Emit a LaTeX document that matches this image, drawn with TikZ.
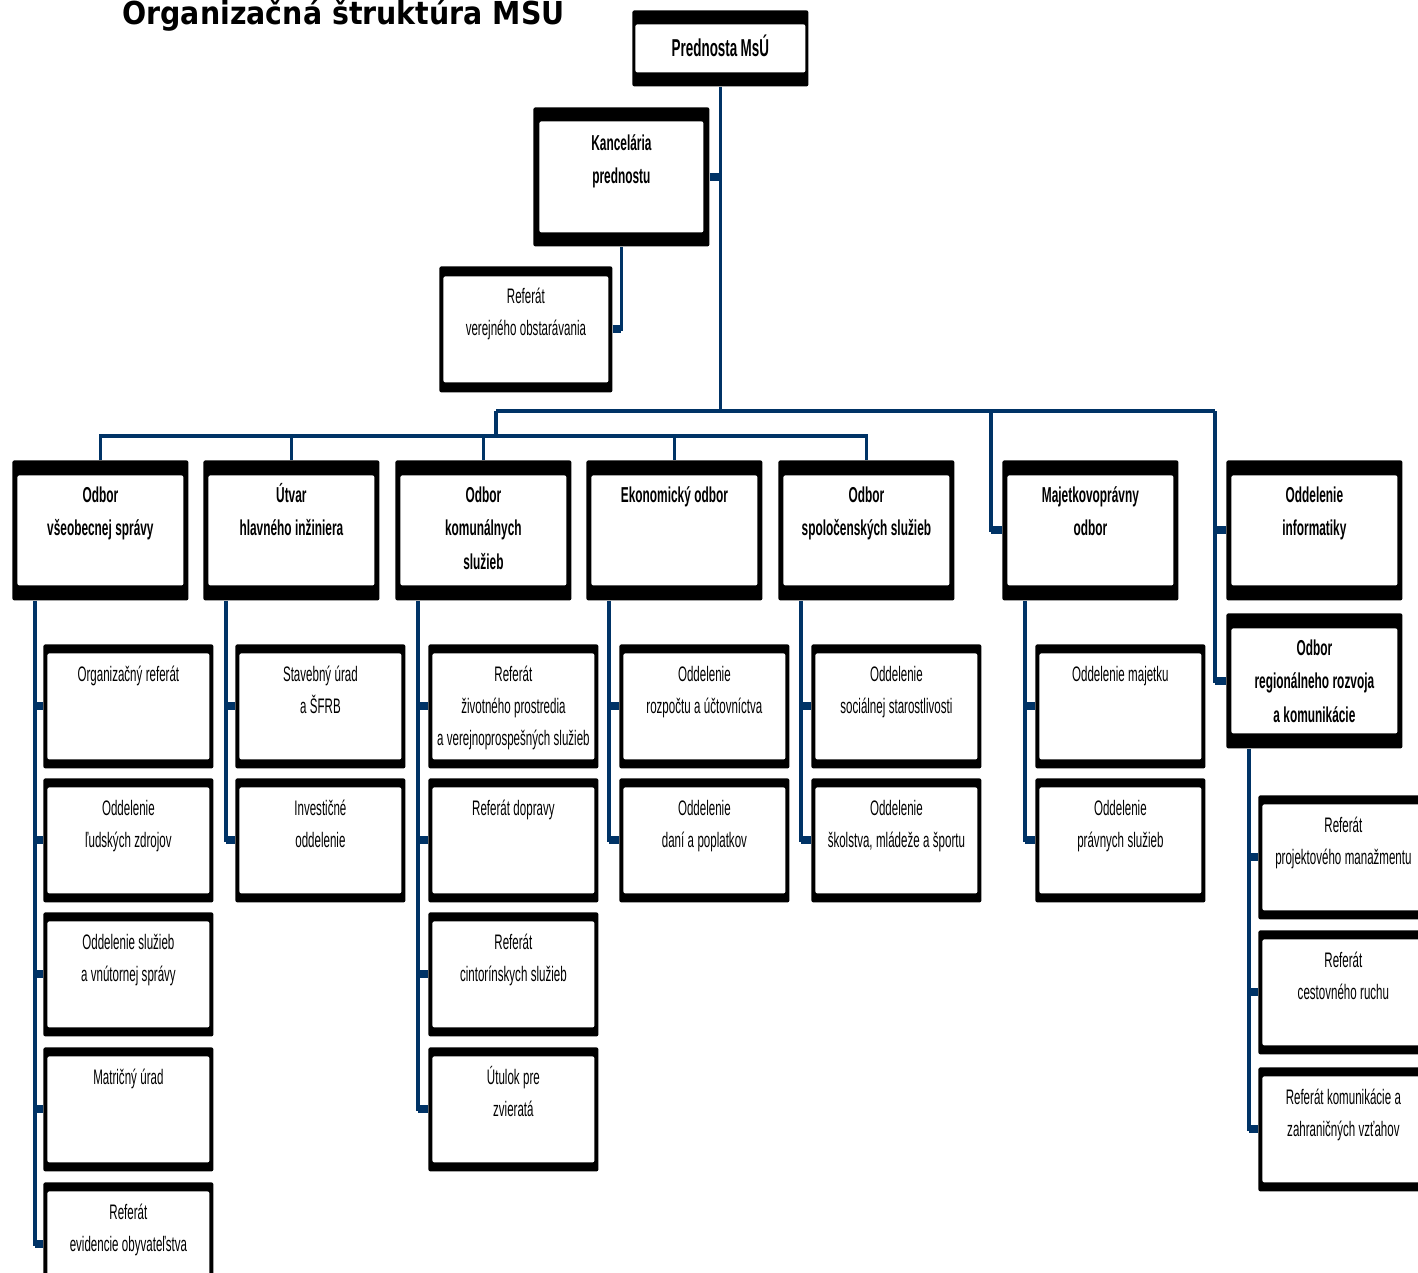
\documentclass[tikz,border=0pt]{standalone}
\usepackage{fontspec}
\setmainfont{Liberation Sans}[FakeStretch=0.55]
\newfontfamily\titlefont{DejaVu Sans}[FakeStretch=0.9]
\usetikzlibrary{positioning,calc}
\definecolor{navy}{RGB}{0,51,102}
\newcommand\narrowsp{\spaceskip=1.7pt\xspaceskip=1.7pt\relax}
\tikzset{
    frame/.style 2 args={fill=black, rounded corners=1pt,
        path picture={\fill[white] ([xshift=#1,yshift=#2]path picture bounding box.south west)
            rectangle ([xshift=-#1,yshift=-#2]path picture bounding box.north east);}},
    box/.style={anchor=north west, inner sep=0pt, align=center, execute at begin node=\narrowsp},
    headbox/.style={box, frame={1.5pt}{7pt}, text width=88pt, text height=23pt, text depth=15pt,
        font=\bfseries\fontsize{12.2}{16}\selectfont},
    deptbox/.style={box, frame={2.5pt}{7.5pt}, text width=88pt, text height=21pt, text depth=49pt,
        font=\bfseries\fontsize{10.8}{16.75}\selectfont},
    subbox/.style={box, frame={2pt}{4.5pt}, text width=85pt, text height=18.5pt, text depth=43.5pt,
        font=\fontsize{10.5}{16}\selectfont},
    conn/.style={draw=navy, line width=1.8pt},
    stub/.style={draw=navy, line width=4pt}
}
\begin{document}
\begin{tikzpicture}[x=0.5pt, y=-0.5pt]
\useasboundingbox (0,0) rectangle (1418,1273);
\clip (0,0) rectangle (1418,1273);

\node[anchor=base west, inner sep=0pt, font=\titlefont\bfseries\fontsize{15.8}{18}\selectfont] (title) at (122,25) {Organizačná štruktúra MSU};

% vedenie
\node[headbox] (pred) at (632,10) {Prednosta MsÚ};
\node[deptbox, frame={3pt}{7pt}, text height=21.5pt, text depth=48pt] (kanc) at (533,107) {Kancelária\\prednostu};
\node[subbox, text width=86.5pt, text depth=44.5pt, frame={2pt}{5pt}] (verej) at (439,266) {Referát\\verejného obstarávania};

% odbory
\node[deptbox] (d1) at (12,460) {Odbor\\všeobecnej správy};
\node[deptbox] (d2) at (203,460) {Útvar\\hlavného inžiniera};
\node[deptbox] (d3) at (395,460) {Odbor\\komunálnych\\služieb};
\node[deptbox] (d4) at (586,460) {Ekonomický odbor};
\node[deptbox] (d5) at (778,460) {Odbor\\spoločenských služieb};
\node[deptbox] (d6) at (1002,460) {Majetkovoprávny\\odbor};
\node[deptbox] (d7) at (1226,460) {Oddelenie\\informatiky};
\node[deptbox, text depth=46.5pt] (d8) at (1226,613) {Odbor\\regionálneho rozvoja\\a komunikácie};

% oddelenia a referaty
\node[subbox] (s11) at (43,644) {Organizačný referát};
\node[subbox] (s12) at (43,778) {Oddelenie\\ľudských zdrojov};
\node[subbox] (s13) at (43,912) {Oddelenie služieb\\a vnútornej správy};
\node[subbox] (s14) at (43,1047) {Matričný úrad};
\node[subbox] (s15) at (43,1182) {Referát\\evidencie obyvateľstva};

\node[subbox] (s21) at (235,644) {Stavebný úrad\\a ŠFRB};
\node[subbox] (s22) at (235,778) {Investičné\\oddelenie};

\node[subbox] (s31) at (428,644) {Referát\\životného prostredia\\a verejnoprospešných služieb};
\node[subbox] (s32) at (428,778) {Referát dopravy};
\node[subbox] (s33) at (428,912) {Referát\\cintorínskych služieb};
\node[subbox] (s34) at (428,1047) {Útulok pre\\zvieratá};

\node[subbox] (s41) at (619,644) {Oddelenie\\rozpočtu a účtovníctva};
\node[subbox] (s42) at (619,778) {Oddelenie\\daní a poplatkov};

\node[subbox] (s51) at (811,644) {Oddelenie\\sociálnej starostlivosti};
\node[subbox] (s52) at (811,778) {Oddelenie\\školstva, mládeže a športu};

\node[subbox] (s61) at (1035,644) {Oddelenie majetku};
\node[subbox] (s62) at (1035,778) {Oddelenie\\právnych služieb};

\node[subbox] (s71) at (1258,795) {Referát\\projektového manažmentu};
\node[subbox] (s72) at (1258,930) {Referát\\cestovného ruchu};
\node[subbox] (s73) at (1258,1067) {Referát komunikácie a\\zahraničných vzťahov};

% spojnice
\coordinate (ubL) at (496,411);
\coordinate (ubR) at (1215,411);
\coordinate (mj) at (991,411);
\coordinate (lb) at (0,436);

\draw[conn] (pred.south) -- (pred.south |- ubL);
\draw[stub] (kanc.east) -- (kanc.east -| pred.south);
\draw[conn] (kanc.south) |- (verej.east);
\draw[stub] (verej.east) -- (verej.east -| kanc.south);

\draw[conn] (ubL) -- (ubR);
\draw[conn] (ubL) -- (ubL |- lb);
\draw[conn] (d1.north) |- (d5.north |- lb) -- (d5.north);
\foreach \d in {d2,d3,d4}
    \draw[conn] (\d.north) -- (\d.north |- lb);

\draw[conn] (mj) |- (d6.west);
\draw[stub] (d6.west) -- (d6.west -| mj);
\draw[conn] (ubR) |- (d8.west);
\foreach \d in {d7,d8}
    \draw[stub] (\d.west) -- (\d.west -| ubR);

\foreach \d/\last in {d1/s15,d2/s22,d3/s34,d4/s42,d5/s52,d6/s62,d8/s73} {
    \coordinate (c\d) at ([xshift=11.5pt]\d.south west);
    \draw[conn] (c\d) |- (\last.west);
}
\foreach \s/\d in {s11/d1,s12/d1,s13/d1,s14/d1,s15/d1,s21/d2,s22/d2,s31/d3,s32/d3,s33/d3,s34/d3,
    s41/d4,s42/d4,s51/d5,s52/d5,s61/d6,s62/d6,s71/d8,s72/d8,s73/d8}
    \draw[stub] (\s.west) -- (\s.west -| c\d);
\end{tikzpicture}
\end{document}
